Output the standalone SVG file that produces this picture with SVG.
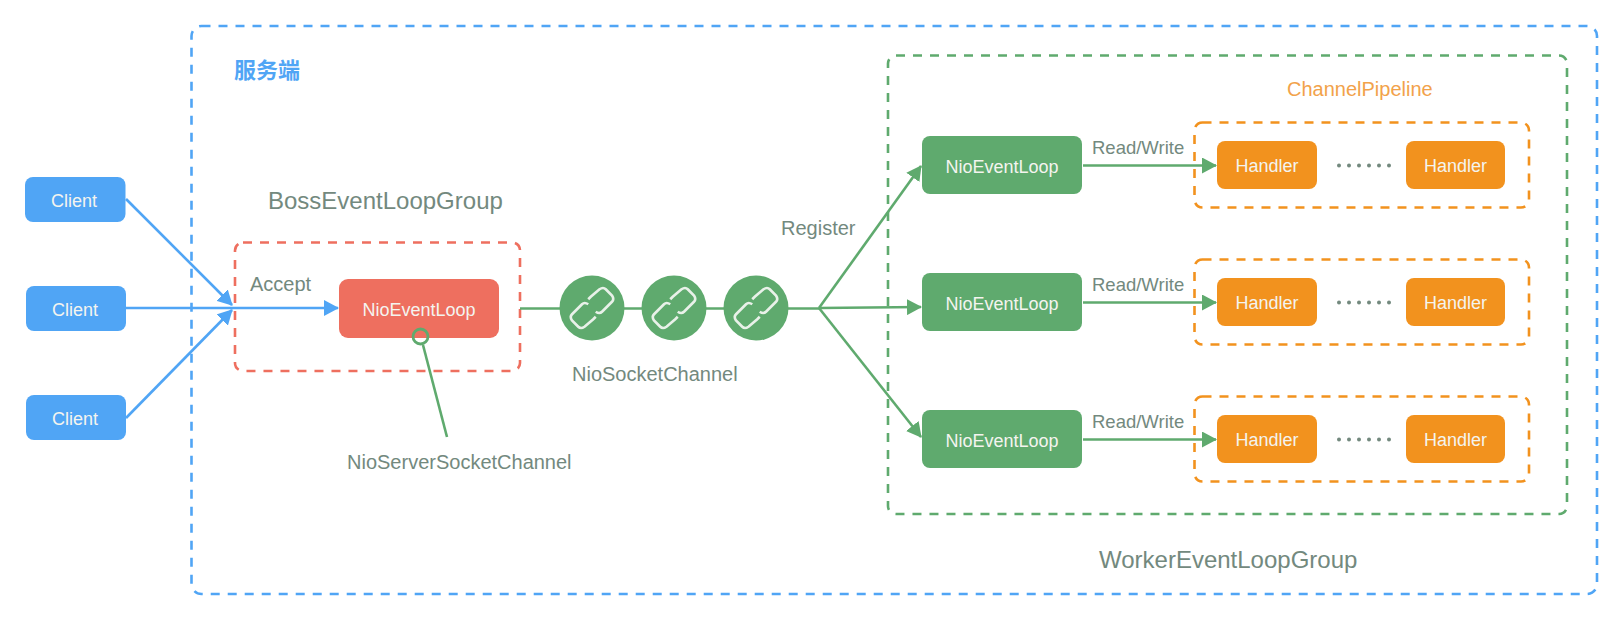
<svg xmlns="http://www.w3.org/2000/svg" width="1612" height="618" viewBox="0 0 1612 618">
<style>
text{font-family:"Liberation Sans",Arial,"Noto Sans CJK SC",sans-serif}
.l{fill:#73897e}
.w{fill:#f4f4ef;text-anchor:middle}
.w1{font-size:18px}
.g{fill:none;stroke-width:2.6;stroke-dasharray:9 8}
.gl{stroke:#5faa6e;stroke-width:2.6;fill:none}
.bl{stroke:#50a5f5;stroke-width:2.6;fill:none}
.cl{fill:#50a5f5}.ev{fill:#5faa6e}.ha{fill:#f2921e}
.lk{fill:none;stroke:#e9f1e9;stroke-width:2.100}
.dots{stroke:#73897e;stroke-width:4;stroke-linecap:round;stroke-dasharray:0 10;fill:none}
</style>
<defs>
<marker id="ab" viewBox="0 0 15 16" refX="14" refY="8" markerWidth="15" markerHeight="16" markerUnits="userSpaceOnUse" orient="auto"><path d="M0 0L15 8L0 16z" fill="#50a5f5"/></marker>
<marker id="ag" viewBox="0 0 15 16" refX="14" refY="8" markerWidth="15" markerHeight="16" markerUnits="userSpaceOnUse" orient="auto"><path d="M0 0L15 8L0 16z" fill="#5faa6e"/></marker>
<g id="lnk" transform="scale(1.25)"><path class="lk" d="M-3 -7L-1 -9L6 -15Q9 -17 11 -15L16 -10Q18 -7 16 -5L8 3Q6 5 3 3"/><path class="lk" d="M3 7L1 9L-6 15Q-9 17 -11 15L-16 10Q-18 7 -16 5L-8 -3Q-6 -5 -3 -3"/></g>
</defs>
<g id="server-box"><rect x="191.500" y="26" width="1405.500" height="568" rx="10" class="g" stroke="#50a5f5"/><text x="234" y="78" font-size="22" font-weight="bold" fill="#50a5f5">服务端</text></g>
<g id="boss-box"><rect x="235" y="242.500" width="285" height="128.500" rx="8" class="g" stroke="#ee6f5f"/><text x="268" y="209" font-size="24" class="l">BossEventLoopGroup</text></g>
<g id="worker-box"><rect x="888" y="55.500" width="679" height="458.500" rx="8" class="g" stroke="#5faa6e"/><text x="1099" y="568" font-size="24" class="l">WorkerEventLoopGroup</text></g>
<g id="connectors">
<path class="bl" marker-end="url(#ab)" d="M126 199L232 305"/>
<path class="bl" d="M126 308L232 308"/>
<path class="bl" marker-end="url(#ab)" d="M126 418L232 310"/>
<path class="bl" marker-end="url(#ab)" d="M232 308L338 308"/>
<path class="gl" d="M520 308.500H819"/>
<path class="gl" marker-end="url(#ag)" d="M819 308L921 166"/>
<path class="gl" marker-end="url(#ag)" d="M819 308L921 307"/>
<path class="gl" marker-end="url(#ag)" d="M819 308L921 437"/>
<path class="gl" marker-end="url(#ag)" d="M1083 165.500H1216"/>
<path class="gl" marker-end="url(#ag)" d="M1083 302.500H1216"/>
<path class="gl" marker-end="url(#ag)" d="M1083 439.500H1216"/>
<path class="gl" d="M423 345L447 437"/>
</g>
<g id="client1"><rect x="25" y="177" width="100.500" height="45" rx="8" class="cl"/><text x="74" y="207" class="w w1">Client</text></g>
<g id="client2"><rect x="26" y="286" width="100" height="45" rx="8" class="cl"/><text x="75" y="316" class="w w1">Client</text></g>
<g id="client3"><rect x="26" y="395" width="100" height="45" rx="8" class="cl"/><text x="75" y="425" class="w w1">Client</text></g>
<g id="accept"><text x="250" y="291" font-size="20" class="l">Accept</text></g>
<g id="boss-loop"><rect x="339" y="279" width="160" height="59" rx="9" fill="#ee6f5f"/><text x="419" y="316" class="w w1">NioEventLoop</text></g>
<g id="server-channel"><circle cx="420.500" cy="336.500" r="7.500" fill="none" stroke="#5faa6e" stroke-width="2.800"/><text x="347" y="469" font-size="20" class="l">NioServerSocketChannel</text></g>
<g id="ch1"><circle cx="592" cy="308" r="32.500" fill="#5faa6e"/><use href="#lnk" x="592" y="308"/></g>
<g id="ch2"><circle cx="674" cy="308" r="32.500" fill="#5faa6e"/><use href="#lnk" x="674" y="308"/></g>
<g id="ch3"><circle cx="756" cy="308" r="32.500" fill="#5faa6e"/><use href="#lnk" x="756" y="308"/></g>
<g id="channel-label"><text x="572" y="381" font-size="20" class="l">NioSocketChannel</text></g>
<g id="register"><text x="781" y="235" font-size="20" class="l">Register</text></g>
<g id="pipeline-label"><text x="1287" y="96" font-size="20" fill="#f2a24a">ChannelPipeline</text></g>
<g id="w1"><rect x="922" y="136" width="160" height="58" rx="8" class="ev"/><text x="1002" y="173" class="w w1">NioEventLoop</text></g>
<g id="w2"><rect x="922" y="273" width="160" height="58" rx="8" class="ev"/><text x="1002" y="310" class="w w1">NioEventLoop</text></g>
<g id="w3"><rect x="922" y="410" width="160" height="58" rx="8" class="ev"/><text x="1002" y="447" class="w w1">NioEventLoop</text></g>
<g id="rw1"><text x="1092" y="154" font-size="18.500" class="l">Read/Write</text></g>
<g id="rw2"><text x="1092" y="291" font-size="18.500" class="l">Read/Write</text></g>
<g id="rw3"><text x="1092" y="428" font-size="18.500" class="l">Read/Write</text></g>
<g id="pipe1"><rect x="1194.500" y="122.500" width="334.500" height="85" rx="8" class="g" stroke="#f2921e"/><rect x="1217" y="141" width="100" height="48" rx="8" class="ha"/><text x="1267" y="172" class="w w1">Handler</text><rect x="1406" y="141" width="99" height="48" rx="8" class="ha"/><text x="1455.500" y="172" class="w w1">Handler</text><path d="M1339 165.500h51" class="dots"/></g>
<g id="pipe2"><rect x="1194.500" y="259.500" width="334.500" height="85" rx="8" class="g" stroke="#f2921e"/><rect x="1217" y="278" width="100" height="48" rx="8" class="ha"/><text x="1267" y="309" class="w w1">Handler</text><rect x="1406" y="278" width="99" height="48" rx="8" class="ha"/><text x="1455.500" y="309" class="w w1">Handler</text><path d="M1339 302.500h51" class="dots"/></g>
<g id="pipe3"><rect x="1194.500" y="396.500" width="334.500" height="85" rx="8" class="g" stroke="#f2921e"/><rect x="1217" y="415" width="100" height="48" rx="8" class="ha"/><text x="1267" y="446" class="w w1">Handler</text><rect x="1406" y="415" width="99" height="48" rx="8" class="ha"/><text x="1455.500" y="446" class="w w1">Handler</text><path d="M1339 439.500h51" class="dots"/></g>
</svg>
